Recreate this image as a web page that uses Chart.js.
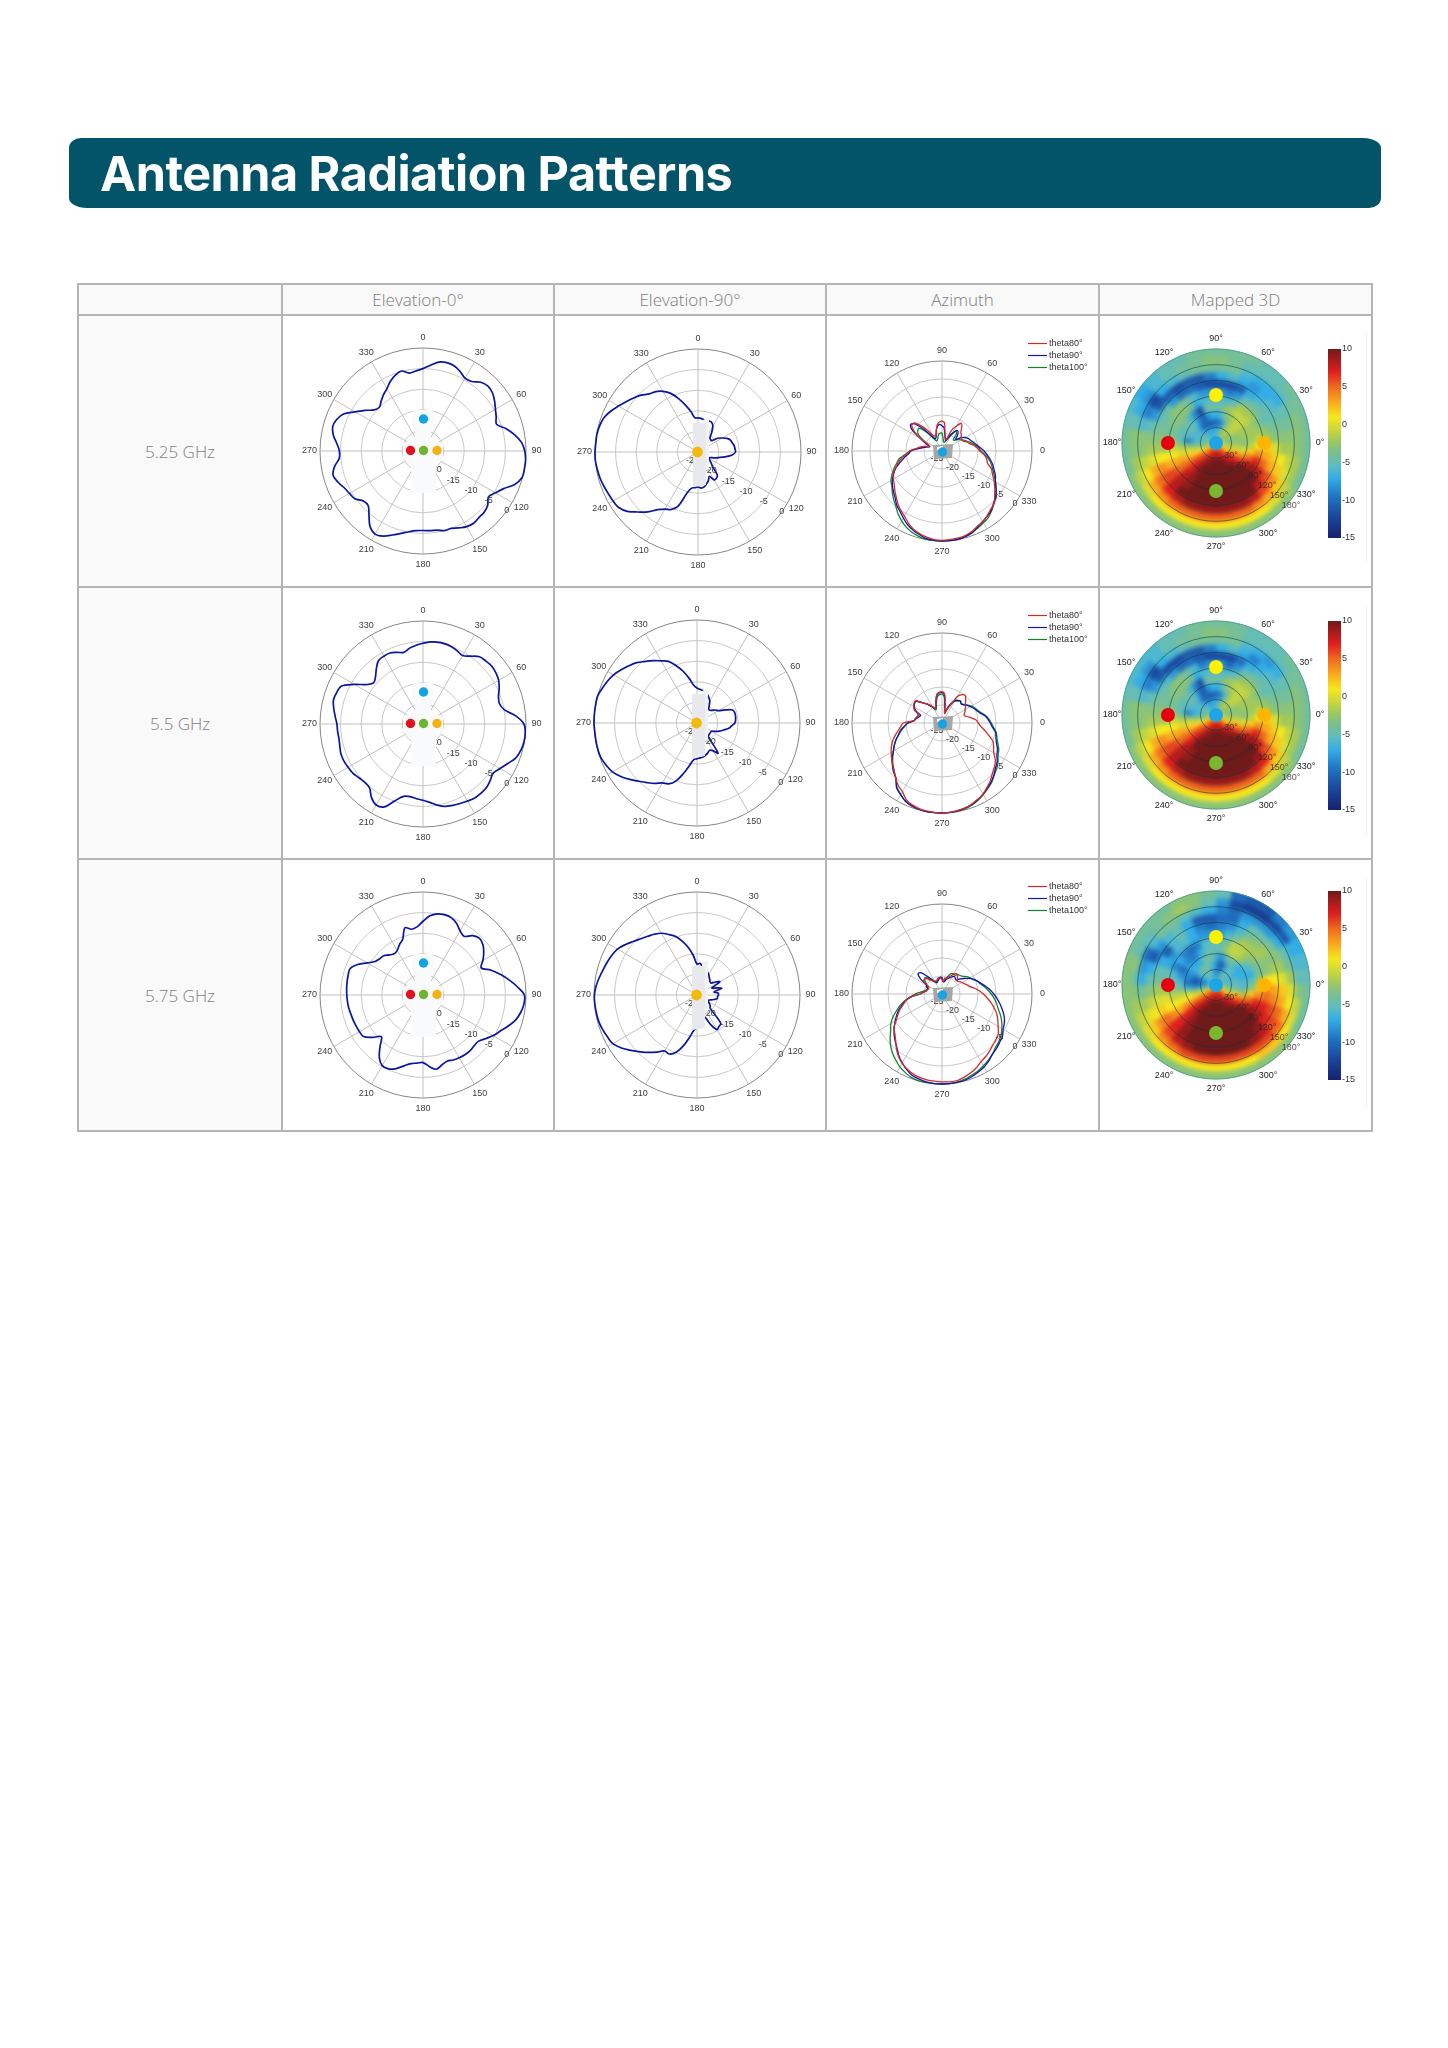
<!DOCTYPE html>
<html>
<head>
<meta charset="utf-8">
<title>Antenna Radiation Patterns</title>
<script src="https://cdn.jsdelivr.net/npm/chart.js@4"></script>
<style>
  body { margin: 0; background: #fff; width: 1448px; height: 2048px; position: relative; overflow: hidden; }
  .banner { position: absolute; left: 69px; top: 138px; width: 1312px; height: 70px; background: #035468; border-radius: 12px 18px 12px 18px / 10px; }
  .banner h1 { margin: 0; position: absolute; left: 31px; top: 1px; font: 700 48.5px/70px Inter, sans-serif; letter-spacing: -0.5px; color: #fff; }
  table { position: absolute; left: 77px; top: 283px; border-collapse: collapse; table-layout: fixed; width: 1294px; color: #7d7d7d; font-family: "Open Sans", sans-serif; font-weight: 300; }
  td, th { border: 2px solid #b5b5b5; padding: 0; text-align: center; font-weight: 300; }
  thead th { height: 29px; background: #f9f9f9; font-size: 17px; line-height: 20px; }
  tbody td { height: 270px; background: #fff; }
  tbody td:first-child { background: #f9f9f9; font-size: 17px; }
  canvas { position: absolute; }
  .edge { position: absolute; width: 1px; height: 231px; background: #f0f0f0; }
</style>
</head>
<body>
<div class="banner"><h1>Antenna Radiation Patterns</h1></div>
<table>
  <colgroup><col style="width:204px"><col style="width:272px"><col style="width:272px"><col style="width:273px"><col style="width:273px"></colgroup>
  <thead><tr><th></th><th>Elevation-0°</th><th>Elevation-90°</th><th>Azimuth</th><th>Mapped 3D</th></tr></thead>
  <tbody>
    <tr><td>5.25 GHz</td><td></td><td></td><td></td><td></td></tr>
    <tr><td>5.5 GHz</td><td></td><td></td><td></td><td></td></tr>
    <tr><td>5.75 GHz</td><td></td><td></td><td></td><td></td></tr>
  </tbody>
</table>
<script>
// Gain in dB, one value every 5 degrees. Elevation lists start at 0 and go clockwise
const elev0_525 = [-5.0,-4.1,-3.1,-2.8,-3.0,-3.7,-4.6,-4.4,-3.2,-2.7,-3.0,-3.8,-4.7,-5.4,-6.0,-4.1,-2.4,-1.0,-0.3,0,0,-0.1,-1.3,-3.4,-4.7,-5.6,-4.5,-4.0,-3.9,-3.6,-3.8,-4.4,-5.0,-5.0,-5.5,-5.6,-5.7,-5.6,-5.1,-4.3,-3.3,-2.2,-1.7,-2.6,-4.6,-6.2,-6.1,-4.8,-4.4,-3.9,-3.0,-2.4,-3.2,-4.6,-4.7,-4.0,-2.9,-2.3,-2.7,-3.7,-6.0,-7.8,-9.5,-10.0,-9.2,-8.3,-7.5,-6.3,-5.4,-4.9,-5.8,-5.5]
const elev0_55 = [-5.4,-5.0,-4.8,-4.8,-5.0,-5.4,-5.8,-4.9,-3.7,-3.4,-3.2,-3.4,-3.8,-4.6,-5.5,-5.8,-5.0,-2.4,-0.5,-0.1,-0.1,-0.4,-1.0,-2.3,-3.4,-4.2,-3.7,-3.2,-3.1,-3.1,-3.4,-3.7,-4.0,-4.3,-5.0,-5.9,-6.5,-6.8,-7.1,-6.8,-5.2,-2.8,-2.3,-3.2,-4.8,-5.0,-4.7,-4.2,-4.0,-3.8,-3.8,-4.1,-4.3,-4.2,-4.1,-3.6,-3.0,-2.5,-2.7,-3.2,-5.8,-8.3,-9.4,-8.7,-7.4,-6.2,-6.0,-6.0,-6.5,-7.0,-6.3,-5.8]
const elev0_575 = [-7.1,-5.7,-5.0,-4.8,-5.0,-5.8,-7.0,-7.6,-6.2,-5.6,-6.0,-7.0,-8.2,-9.4,-7.4,-5.6,-3.8,-2.0,-0.4,-0.4,-0.9,-1.7,-3.0,-4.3,-5.3,-6.5,-7.5,-7.5,-7.3,-7.3,-7.4,-7.6,-7.9,-7.4,-6.7,-7.6,-8.6,-8.4,-8.1,-7.2,-6.0,-5.2,-5.2,-6.5,-8.8,-10.7,-9.0,-7.4,-7.2,-7.1,-7.0,-6.9,-6.7,-6.6,-6.5,-6.4,-6.3,-6.2,-6.2,-7.5,-9.4,-10.8,-11.3,-11.5,-12.3,-12.8,-12.5,-11.5,-10.6,-8.1,-8.8,-8.4]

const elev90_525 = [-16.7,-16.8,-17,-17,-17,-17.1,-17.8,-19.2,-20.5,-20.7,-20.7,-19.2,-18.2,-17.2,-16.6,-16.4,-16.1,-16,-15.9,-16.7,-18.3,-19.8,-20.9,-21.8,-22,-21.5,-20.8,-20,-17.7,-17.2,-17.2,-18.5,-17.6,-17,-16.4,-16.2,-16.5,-16.3,-16.1,-14.7,-11.1,-9.6,-9,-7.9,-6,-4.4,-2.6,-1.5,-1.2,-1,-0.7,-0.4,-0.2,0,0,-0.1,-0.1,-0.3,-0.7,-1.6,-2.7,-3.7,-4.6,-5.5,-6.6,-7.1,-8,-9.3,-11.2,-13.2,-15,-16.7]
const elev90_55 = [-16.5,-16.8,-17,-17.2,-17.6,-18.2,-18.8,-19.8,-20.6,-20.6,-20.2,-19.5,-19,-17.5,-15.8,-15.5,-15.5,-15.6,-15.8,-16.6,-17.3,-18.4,-19.2,-20.2,-21,-21,-21,-20.9,-20.8,-16.1,-17.2,-17.7,-17.3,-16.9,-16.6,-16.5,-16.3,-16.1,-14.5,-12.3,-10,-8.7,-8.2,-7.1,-6.1,-5,-3.7,-2.4,-1.3,-0.7,-0.2,-0.1,-0.1,-0.1,0,0,0,0,-0.5,-1,-1.6,-2.5,-3.4,-4.3,-5.5,-6.5,-7.6,-8.5,-10.2,-12,-14,-15.8]
const elev90_575 = [-17.5,-17.3,-17.8,-18.2,-18.6,-18.9,-19.3,-19.8,-20.2,-20.5,-20.5,-19.5,-18.6,-21,-20,-18.8,-20.8,-19.8,-19.8,-20,-20,-20.8,-21.5,-22,-21.8,-21.3,-20.8,-20.5,-16,-15.7,-15.3,-17,-19.2,-19.5,-19,-17.8,-17,-16.4,-14.6,-12.2,-10.2,-9.2,-9.3,-8.1,-6.8,-5.5,-4.1,-2.6,-1.4,-1,-0.6,-0.3,-0.2,-0.1,-0.1,-0.4,-0.9,-1.4,-1.8,-2.2,-2.7,-3.7,-4.8,-5.7,-6.4,-7,-7.7,-8.8,-9.9,-11.6,-13.4,-15.5]

// Azimuth lists start at 90 and go clockwise, 85, 80 ... like the plot is read
const az525_theta80 = [-16.7,-17.1,-20.2,-21.3,-21.6,-18.7,-17,-15.6,-16.5,-17.6,-18,-18.5,-18.7,-18.5,-17.6,-17.1,-16,-15.2,-14.5,-13.3,-12.4,-11.9,-10.4,-9.5,-8.3,-7.1,-5.9,-4.5,-3.9,-3.1,-2.3,-1.9,-1.1,-0.6,-0.4,-0.3,-0.2,-0.3,-0.7,-1.2,-1.9,-2.9,-4.1,-5,-5.9,-7,-7.9,-8.8,-9.4,-10,-11.3,-12.4,-13.5,-15.1,-16,-17.7,-18.7,-20,-21.3,-20.8,-18.3,-15.7,-14,-14,-15.8,-18,-20,-20.4,-20.2,-19,-17.5,-16.9]
const az525_theta90 = [-18,-18.5,-20.5,-21.5,-22,-21.2,-19.7,-18,-18,-19,-20,-18.5,-17.5,-16.9,-16.5,-15.9,-15.2,-14.3,-13.3,-12.4,-11.4,-10.4,-9.6,-8.6,-7.9,-6.7,-5.5,-4.7,-3.6,-3,-2.4,-1.7,-0.8,-0.4,-0.1,0,0,-0.1,-0.3,-0.9,-1.6,-2.4,-3.5,-4.6,-5.4,-6.6,-7.4,-8.2,-9.1,-10.2,-11.4,-13,-14.3,-15.6,-16.4,-18,-19.6,-20.5,-21.3,-20,-18.2,-15,-13.6,-14.3,-16.9,-19.8,-21,-21,-20.3,-18.9,-18,-17.6]
const az525_theta100 = [-20.1,-21.5,-22.4,-22.5,-21.8,-20.3,-19.2,-18.3,-18.8,-20.6,-20.4,-19.5,-18.8,-18,-17.4,-16.5,-15.7,-14.7,-14.2,-13,-11.8,-10.8,-10,-9,-7.8,-6.6,-5.3,-4.5,-3.5,-2.5,-2,-1.4,-0.8,-0.3,0,0,0,0,-0.1,-0.4,-0.9,-1.6,-2.6,-3.7,-5,-6,-7,-8,-8.6,-9.7,-10.8,-12,-13,-14.8,-16.2,-18,-19.4,-20.6,-21.4,-20.4,-19,-17,-16.2,-16,-18,-20.3,-21.6,-21.8,-21.5,-20.8,-20.2,-20]

const az55_theta80 = [-16.3,-16.8,-20,-22.3,-21,-19.5,-16.6,-15.4,-15,-15.7,-16.5,-17,-17.6,-18,-18.5,-18,-16.8,-15.5,-14.9,-14.2,-12.9,-11.5,-9.9,-9.2,-8.4,-6.9,-6,-5.2,-4.1,-3.2,-2.2,-1.6,-1,-0.5,-0.3,-0.1,0,-0.1,-0.2,-0.4,-0.8,-1.5,-3,-3.8,-5,-6.2,-7.1,-7.9,-8.7,-9.5,-10.4,-11.5,-12.6,-13.5,-14.2,-17.2,-17.5,-17.9,-18.3,-16.5,-16,-15.5,-15.5,-16.9,-18,-18.8,-19.7,-20.6,-20.1,-18.5,-16.9,-16.4]
const az55_theta90 = [-16.5,-17.2,-20.5,-22,-20.5,-19,-17.8,-17.3,-17,-17.5,-17.2,-16.5,-15.9,-15.3,-14.8,-14.1,-13,-12.2,-11.6,-10.9,-9.9,-9.5,-8.9,-8,-7.4,-6.3,-5.6,-4.6,-3.7,-3,-2.2,-1.5,-0.9,-0.5,-0.2,-0.1,0,0,0,-0.2,-0.5,-1,-2,-3,-5.1,-5.9,-7,-8.1,-9.4,-10.4,-11.4,-12.5,-13.3,-14.5,-15.5,-17.2,-17.8,-18.4,-18.7,-17,-16,-15.7,-15.5,-16.9,-18,-19,-20,-20.6,-20.1,-18.5,-17,-16.6]
const az55_theta100 = [-17,-17.8,-21,-22.2,-21,-19.5,-18,-17.6,-17.1,-17.4,-17,-16.3,-15.6,-15,-14.5,-13.8,-12.8,-12,-11.3,-10.6,-9.7,-9.2,-8.5,-7.6,-7,-6,-5.2,-4.5,-3.5,-2.8,-2,-1.3,-0.7,-0.3,-0.1,0,0,0,0,-0.2,-0.5,-1,-2.1,-3.2,-5,-6.2,-7.2,-8.3,-9.4,-10.4,-11.4,-12.6,-13.6,-14.6,-15.6,-17.3,-17.6,-17.9,-17.9,-16.8,-16.2,-15.6,-15.6,-17,-18,-19,-20,-21,-20.5,-19,-17.6,-17.1]

const az575_theta80 = [-21,-21.5,-20.5,-20.5,-20,-19.5,-18.6,-18.1,-18.3,-19,-19.5,-19,-18.6,-18.2,-17.6,-17,-15.8,-14.6,-13.5,-12.4,-11.2,-10,-8.8,-7.9,-7,-5.9,-5.4,-5,-4.4,-3.8,-3.3,-2.4,-1.7,-1.1,-0.6,-0.5,-0.6,-0.7,-0.8,-1,-1.4,-2,-2.8,-3.9,-5.3,-6.8,-7.9,-8.7,-10.3,-11.5,-12.6,-13.9,-14.9,-16.6,-19,-19.8,-20.5,-20.7,-21,-21,-20.5,-18.8,-18.6,-19,-20,-20.5,-20.8,-21,-21,-20.5,-20.5,-20.5]
const az575_theta90 = [-20.5,-21.5,-21.5,-21,-20.5,-20,-19.5,-19,-19.3,-19.5,-18.5,-17.5,-16.3,-15.3,-14.5,-13.7,-12.7,-11.6,-10.6,-9.6,-8.6,-7.6,-6.6,-5.9,-5.4,-4.5,-4.1,-3.6,-3.2,-2.3,-1.6,-1.1,-0.6,-0.2,-0.1,0,0,0,-0.2,-0.5,-0.9,-1.8,-2.9,-4.1,-5.5,-6.6,-7.6,-8.8,-10,-11.1,-12.3,-13.6,-14.8,-16.5,-19,-19.7,-20.5,-20.6,-20.8,-20.2,-20,-17.8,-16.3,-16.6,-18.5,-20,-21,-21.4,-21.4,-21,-20.7,-20.3]
const az575_theta100 = [-20.6,-21.5,-21.3,-20.5,-19.5,-18.7,-18.6,-18.6,-18,-17.8,-17.4,-16.6,-16,-15.5,-14.6,-14,-13.1,-12.2,-11.3,-10.4,-9.6,-8.8,-7.7,-6.7,-5.8,-5,-4.4,-4,-3.2,-2.6,-2,-1.4,-1,-0.5,-0.2,0,0,0,0,0,-0.3,-0.9,-1.6,-2.6,-3.6,-4.8,-6.2,-7.6,-8.6,-10,-11.6,-13,-14.6,-16.2,-17.5,-19,-20,-20.6,-20.8,-20.6,-20.2,-19.5,-18.7,-18.5,-19.5,-20.6,-21.2,-21.6,-21,-20.5,-20.4,-20.4]

// Mapped 3D: one row per theta ring (15 deg each), one value per 10 deg sector, clockwise from 90
const ringEdges = [15,30,45,60,75,90,105,120,135,150,165,180]
const heat525 = [
  [-5,-4,-3,-3,-3,-2,-2,-2,-2,-1,0,1,2,3,4,4,5,5,5,5,5,5,4,3,1,-1,-2,-3,-3,-4,-4,-5,-5,-6,-6,-6],
  [-7,-5,-3,-2,-2,-2,-3,-3,-3,-3,-2,0,2,4,6,7,8,8,8,8,7,6,5,3,1,-2,-4,-5,-5,-5,-5,-6,-7,-7,-7,-7],
  [-10,-9,-6,-2,-1,-1,-2,-3,-3,-2,-1,2,5,7,8,9,10,10,10,10,9,8,6,5,1,-1,-4,-6,-6,-6,-6,-8,-11,-10,-11,-10],
  [-7,-5,-3,-2,-1,-1,-2,-2,-3,-3,0,3,6,8,10,10,10,10,10,10,10,9,7,5,2,0,-3,-9,-6,-5,-5,-6,-9,-11,-8,-7],
  [-5,-3,-2,-1,-1,-1,-2,-2,-2,-1,2,5,8,10,10,10,10,10,10,10,10,9,7,5,3,0,-2,-5,-5,-5,-4,-6,-9,-12,-5,-4],
  [-5,-6,-5,-2,-2,-2,-3,-2,-1,1,4,7,9,10,10,10,10,10,10,10,10,9,8,5,3,1,-1,-3,-4,-3,-3,-3,-4,-7,-6,-5],
  [-8,-9,-8,-5,-4,-4,-5,-3,-2,2,3,5,8,10,10,10,10,10,10,10,10,9,8,6,3,1,-2,-3,-4,-4,-3,-3,-4,-6,-8,-8],
  [-12,-12,-11,-7,-6,-5,-5,-4,-3,0,2,3,6,8,10,10,10,10,10,10,10,10,8,6,4,1,-2,-3,-4,-5,-5,-8,-10,-10,-11,-12],
  [-7,-6,-7,-8,-7,-6,-5,-4,-3,-2,1,2,4,6,8,9,9,9,9,9,9,8,7,5,3,0,-2,-3,-5,-8,-11,-11,-12,-11,-11,-9],
  [-4,-4,-6,-7,-7,-7,-5,-4,-3,-2,-1,0,2,3,4,5,5,5,5,5,5,5,4,3,1,-1,-3,-3,-6,-9,-12,-7,-6,-5,-4,-4],
  [-3,-4,-5,-5,-5,-5,-4,-3,-3,-3,-2,-2,-1,0,1,1,1,1,1,1,1,1,1,0,-1,-2,-3,-3,-5,-7,-8,-6,-5,-4,-4,-3],
  [-4,-4,-4,-5,-5,-4,-4,-4,-4,-4,-4,-4,-3,-3,-3,-3,-3,-3,-3,-3,-3,-3,-3,-3,-3,-4,-4,-4,-5,-6,-7,-6,-5,-5,-4,-4],
]
const heat55 = [
  [-5,-4,-3,-3,-3,-2,-2,-2,-2,-1,0,1,2,3,4,5,5,5,5,5,5,5,4,3,1,-1,-2,-3,-3,-4,-4,-5,-5,-6,-6,-6],
  [-7,-5,-3,-2,-2,-2,-3,-3,-3,-3,-2,0,2,4,6,7,8,8,8,8,7,6,5,3,1,-2,-4,-5,-5,-5,-5,-6,-7,-8,-7,-7],
  [-10,-9,-6,-3,-1,-1,-2,-3,-3,-2,-1,2,5,7,9,9,10,10,10,10,9,8,6,5,1,-1,-4,-7,-6,-6,-6,-8,-11,-10,-11,-10],
  [-7,-5,-3,-2,-1,-1,-2,-2,-3,-3,0,3,6,9,10,10,10,10,10,10,10,9,7,5,2,0,-3,-9,-6,-5,-5,-6,-10,-11,-8,-7],
  [-5,-3,-2,-1,-1,-1,-2,-2,-2,-1,2,5,8,10,10,10,10,10,10,10,10,10,7,5,3,0,-2,-5,-5,-5,-4,-6,-9,-12,-5,-4],
  [-5,-6,-5,-3,-2,-2,-3,-2,-1,1,4,7,9,10,10,10,10,10,10,10,10,9,8,5,3,1,-1,-3,-4,-3,-3,-3,-4,-7,-6,-5],
  [-8,-10,-8,-5,-4,-4,-5,-3,-2,2,3,5,8,10,10,10,10,10,10,10,10,9,8,6,3,1,-2,-3,-4,-4,-3,-3,-4,-6,-9,-8],
  [-12,-12,-10,-7,-6,-5,-5,-4,-3,0,2,3,6,9,10,10,10,10,10,10,10,10,8,6,4,1,-2,-3,-4,-5,-6,-8,-10,-10,-11,-12],
  [-7,-6,-7,-9,-7,-6,-5,-4,-3,-2,1,2,4,7,8,9,9,9,9,9,9,8,7,5,3,0,-2,-3,-5,-8,-11,-12,-12,-11,-11,-9],
  [-4,-4,-6,-7,-8,-7,-5,-4,-3,-2,-1,0,2,3,5,5,5,5,5,5,5,5,4,3,1,-1,-3,-3,-6,-9,-12,-7,-6,-5,-4,-4],
  [-3,-4,-5,-5,-5,-5,-4,-3,-3,-3,-2,-2,-1,0,1,1,1,1,1,1,1,1,1,0,-1,-2,-3,-3,-5,-7,-8,-6,-5,-4,-4,-3],
  [-4,-4,-5,-5,-5,-4,-4,-4,-4,-4,-4,-4,-3,-3,-3,-3,-3,-3,-3,-3,-3,-3,-3,-3,-3,-4,-4,-4,-5,-6,-6,-6,-5,-5,-4,-4],
]
const heat575 = [
  [-6,-6,-5,-5,-4,-4,-4,-4,-4,-3,-1,1,2,3,4,4,5,5,5,5,5,5,4,3,1,-2,-4,-6,-6,-6,-6,-6,-6,-6,-6,-6],
  [-9,-9,-6,-5,-5,-5,-6,-6,-6,-5,-4,-2,1,3,6,7,8,8,8,8,7,6,5,3,0,-3,-7,-9,-9,-8,-6,-5,-5,-5,-6,-8],
  [-10,-11,-9,-6,-5,-6,-7,-6,-5,-5,-4,0,4,7,8,9,10,10,10,10,9,8,6,4,0,-3,-8,-11,-11,-9,-6,-5,-4,-4,-5,-7],
  [-8,-8,-5,-4,-6,-7,-7,-7,-6,-6,-3,3,6,8,10,10,10,10,10,10,10,9,7,4,1,-1,-7,-10,-9,-8,-7,-7,-7,-5,-4,-5],
  [-5,-3,-1,-1,-2,-5,-6,-7,-5,-3,2,5,8,10,10,10,10,10,10,10,10,9,7,4,1,-1,-4,-6,-8,-10,-8,-9,-9,-7,-5,-5],
  [-5,-4,-1,-1,-2,-3,-4,-4,-2,2,4,7,9,10,10,10,10,10,10,10,10,9,7,3,1,-1,-3,-5,-6,-9,-7,-9,-10,-9,-6,-5],
  [-8,-6,-4,-2,-2,-2,-3,-3,1,4,5,7,8,10,10,10,10,10,10,10,10,9,7,4,1,0,-2,-4,-5,-7,-8,-6,-6,-7,-8,-8],
  [-9,-8,-6,-4,-3,-2,-3,-2,1,3,4,6,7,9,10,10,10,10,10,10,10,9,7,5,2,0,-2,-4,-5,-7,-11,-6,-5,-7,-9,-10],
  [-10,-10,-7,-5,-5,-4,-3,-2,0,2,3,5,6,8,9,10,10,10,10,10,9,8,6,4,1,-1,-3,-5,-7,-11,-8,-6,-5,-7,-11,-11],
  [-9,-10,-8,-8,-8,-7,-5,-4,-2,0,1,3,5,6,6,6,6,6,6,6,6,5,4,2,0,-2,-4,-7,-8,-10,-6,-4,-4,-5,-6,-7],
  [-8,-12,-13,-13,-12,-11,-7,-6,-5,-3,-1,0,1,2,2,1,1,1,1,1,1,1,1,0,-1,-2,-3,-4,-3,-5,-5,-4,-3,-2,-3,-5],
  [-5,-10,-11,-11,-9,-8,-7,-6,-5,-4,-4,-4,-3,-3,-3,-3,-3,-3,-3,-3,-3,-3,-3,-3,-3,-3,-3,-3,-3,-4,-4,-4,-4,-3,-3,-4],
]

const gainTicks = [-25,-20,-15,-10,-5,0]
const thetaTicks = [30,60,90,120,150,180]
const colourbarTicks = [-15,-10,-5,0,5,10]
const heatStops = [[-15,'#16216e'],[-12,'#1b4a9e'],[-9.5,'#2175c4'],[-7,'#33ade6'],[-5.5,'#5dbcc4'],[-3.5,'#7dc08a'],[-2,'#a3c95a'],[-0.5,'#cfd93a'],[1,'#f7e71c'],[3,'#f9a81e'],[5,'#ee6a1e'],[7,'#de1f1f'],[8.5,'#a81c1c'],[10,'#6e1a1a']]
const thetaNames = ['theta80°','theta90°','theta100°']
const thetaColours = ['#d42a2a','#1414b0','#0d8428']

// Page layout, in px
const colX = [78,282,554,826,1099,1371]
const rowY = [315,588,860,1133]
const elev0Centers = [[423,451],[423,724],[423,995]]
const elev90Centers = [[698,452],[697,723],[697,995]]
const azCenters = [[942,451],[942,723],[942,994]]
const mapCenters = [[1216,443],[1216,715],[1216,985]]
const barTops = [349,621,891]

Chart.defaults.animation = false
Chart.defaults.font.family = '"Liberation Sans", sans-serif'

function makeCanvas(col, row) {
  const c = document.createElement('canvas')
  const w = colX[col + 1] - colX[col], h = rowY[row + 1] - rowY[row]
  c.width = w
  c.height = h
  c.style.left = colX[col] + 'px'
  c.style.top = rowY[row] + 'px'
  document.body.appendChild(c)
  return { c, w, h, x: colX[col], y: rowY[row] }
}

function areaPadding(box, center, r) {
  const left = center[0] - r - box.x, top = center[1] - r - box.y
  return { left, top, right: box.w - left - 2 * r, bottom: box.h - top - 2 * r }
}

function dot(ctx, x, y, r, colour) {
  ctx.fillStyle = colour
  ctx.beginPath()
  ctx.arc(x, y, r, 0, Math.PI * 2)
  ctx.fill()
}

function shape(ctx, pts, colour) {
  ctx.fillStyle = colour
  ctx.beginPath()
  pts.forEach((p, i) => i ? ctx.lineTo(p[0], p[1]) : ctx.moveTo(p[0], p[1]))
  ctx.closePath()
  ctx.fill()
}

// The small product pictures that sit in the middle of the plots
function drawFrontView(ctx, x, y) {
  shape(ctx, [[-10,-41],[10,-41],[11,-27],[8,-20],[8,-12],[20,-8],[20,8],[13,15],[13,42],[-12,42],[-12,15],[-20,8],[-20,-8],[-8,-12],[-8,-20],[-11,-27]].map(p => [x + p[0], y + p[1]]), '#f8fafb')
  dot(ctx, x + 0.5, y - 32, 4.7, '#12a3e0')
  dot(ctx, x - 12.5, y - 0.5, 4.7, '#e0101c')
  dot(ctx, x + 0.5, y - 0.5, 4.7, '#6db52e')
  dot(ctx, x + 14, y - 0.5, 4.7, '#f4b312')
}

function drawSideView(ctx, x, y) {
  shape(ctx, [[5,-32],[11,-35],[11,16],[5,20]].map(p => [x + p[0], y + p[1]]), '#eff1f3')
  shape(ctx, [[-5,-29],[8,-29],[8,33],[-5,35]].map(p => [x + p[0], y + p[1]]), '#e7e9ec')
  dot(ctx, x - 0.5, y, 5.4, '#f5b90c')
}

function drawTopView(ctx, x, y) {
  shape(ctx, [[-9,-6],[11,-7],[10,7],[-8,8]].map(p => [x + p[0], y + p[1]]), '#a6a6a6')
  shape(ctx, [[-5,-4],[1,-5],[1,-2],[-5,-1]].map(p => [x + p[0], y + p[1]]), '#fff')
  dot(ctx, x + 0.5, y + 1, 4.7, '#18a3e2')
}

function curveChart(box, center, r, labels, datasets, tickIndex, tickOffset, overlay, legend) {
  const labelIdx = labels.map((a, i) => a % 30 === 0 ? i : -1).filter(i => i >= 0)
  return new Chart(box.c, {
    type: 'radar',
    data: { labels, datasets },
    options: {
      responsive: false,
      events: [],
      layout: { padding: areaPadding(box, center, r) },
      plugins: { legend: { display: false }, tooltip: { enabled: false } },
      scales: {
        r: {
          min: -25, max: 0,
          ticks: { display: false, stepSize: 5 },
          pointLabels: { display: false },
          grid: { circular: true, color: ctx => ctx.tick.value === 0 ? '#858585' : '#c8c8c8', lineWidth: 1 },
          angleLines: { color: '#c0c0c0', lineWidth: ctx => labels[ctx.index] % 30 === 0 ? 1 : 0 },
        },
      },
    },
    plugins: [{
      id: 'polarText',
      afterDatasetsDraw(chart) {
        const s = chart.scales.r, ctx = chart.ctx
        ctx.save()
        ctx.font = '9px "Liberation Sans"'
        ctx.fillStyle = '#3c3c3c'
        ctx.textAlign = 'center'
        ctx.textBaseline = 'middle'
        labelIdx.forEach(i => {
          const p = s.getPointPosition(i, s.drawingArea + 10.5)
          ctx.fillText(String(labels[i]), p.x, p.y)
        })
        gainTicks.forEach(v => {
          const p = s.getPointPosition(tickIndex, s.getDistanceFromCenterForValue(v))
          ctx.fillText(String(v), p.x + tickOffset[0], p.y + tickOffset[1])
        })
        overlay(ctx, s.xCenter, s.yCenter)
        if (legend) {
          chart.data.datasets.forEach((d, i) => {
            const y = s.yCenter - 107.5 + i * 12
            ctx.strokeStyle = d.borderColor
            ctx.lineWidth = 1.2
            ctx.beginPath()
            ctx.moveTo(s.xCenter + 86, y)
            ctx.lineTo(s.xCenter + 105, y)
            ctx.stroke()
            ctx.fillStyle = '#333'
            ctx.textAlign = 'left'
            ctx.fillText(d.label, s.xCenter + 107, y)
          })
        }
        ctx.restore()
      },
    }],
  })
}

function blueLine(values) {
  return { data: values, borderColor: '#0b159f', borderWidth: 1.7, pointRadius: 0, fill: false, tension: 0.35, clip: false }
}

function thetaLines(lists) {
  return lists.map((values, i) => ({ label: thetaNames[i], data: values, borderColor: thetaColours[i], borderWidth: 1.3, pointRadius: 0, fill: false, tension: 0.3, clip: false }))
}

function hexToRgb(h) {
  return [1, 3, 5].map(i => parseInt(h.slice(i, i + 2), 16))
}

function heatColour(v) {
  for (let i = 1; i < heatStops.length; i++) {
    if (v <= heatStops[i][0]) {
      const [a, ca] = heatStops[i - 1], [b, cb] = heatStops[i]
      const t = (v - a) / (b - a)
      const A = hexToRgb(ca), B = hexToRgb(cb)
      return `rgb(${A.map((x, k) => Math.round(x + (B[k] - x) * t)).join(',')})`
    }
  }
  return heatStops[heatStops.length - 1][1]
}

function heatChart(box, center, r, heat) {
  const labels = heat[0].map((_, i) => (450 - i * 10) % 360)
  const idxOf = a => labels.indexOf(a)
  new Chart(box.c, {
    type: 'polarArea',
    data: {
      labels,
      datasets: heat.map((row, j) => {
        const colours = row.map(heatColour)
        return { data: row.map(() => ringEdges[j]), backgroundColor: colours, borderColor: colours, borderWidth: 1 }
      }),
    },
    options: {
      responsive: false,
      events: [],
      layout: { padding: areaPadding(box, center, r) },
      plugins: { legend: { display: false }, tooltip: { enabled: false } },
      scales: {
        r: {
          min: 0, max: 180,
          ticks: { display: false, stepSize: 30 },
          pointLabels: { display: false },
          grid: { z: 1, circular: true, color: ctx => ctx.tick.value === 180 ? '#4c9a8e' : 'rgba(15,50,50,0.7)', lineWidth: 0.8 },
          angleLines: { color: 'rgba(15,50,50,0.7)', lineWidth: ctx => labels[ctx.index] % 30 === 0 ? 0.8 : 0 },
        },
      },
    },
    plugins: [{
      id: 'smoothHeat',
      afterDatasetsDraw(chart) {
        const s = chart.scales.r, ctx = chart.ctx
        ctx.save()
        ctx.beginPath()
        ctx.arc(s.xCenter, s.yCenter, s.drawingArea, 0, Math.PI * 2)
        ctx.clip()
        ctx.filter = 'blur(2px)'
        ctx.drawImage(chart.canvas, 0, 0, chart.width, chart.height)
        ctx.restore()
      },
      afterDraw(chart) {
        const s = chart.scales.r, ctx = chart.ctx
        ctx.save()
        ctx.textAlign = 'center'
        ctx.textBaseline = 'middle'
        ctx.font = '9px "Liberation Sans"'
        ctx.fillStyle = '#222'
        labels.forEach((a, i) => {
          if (a % 30) return
          const p = s.getPointPosition(i, s.drawingArea + 10)
          ctx.fillText(a + '°', p.x, p.y)
        })
        ctx.fillStyle = 'rgba(55,30,30,0.8)'
        thetaTicks.forEach(t => {
          const p = s.getPointPosition(idxOf(320), s.getDistanceFromCenterForValue(t) + 4)
          ctx.fillText(t + '°', p.x, p.y)
        })
        const far = s.getDistanceFromCenterForValue(92)
        const marks = [[90, far, '#fff200'], [180, far, '#e60012'], [0, far, '#ffb400'], [270, far, '#7ab62e'], [90, 0, '#1ea5e6']]
        marks.forEach(m => {
          const p = s.getPointPosition(idxOf(m[0]), m[1])
          dot(ctx, p.x, p.y, 7, m[2])
        })
        ctx.restore()
      },
    }],
  })
}

function colourbar(box, top) {
  const left = 1328 - box.x
  new Chart(box.c, {
    type: 'bar',
    data: { labels: [''], datasets: [{
      data: [[colourbarTicks[0], colourbarTicks[colourbarTicks.length - 1]]],
      barPercentage: 1,
      categoryPercentage: 1,
      backgroundColor(ctx) {
        const area = ctx.chart.chartArea, y = ctx.chart.scales.y
        if (!area || !y) return '#888'
        const g = ctx.chart.ctx.createLinearGradient(0, y.getPixelForValue(-15), 0, y.getPixelForValue(10))
        heatStops.forEach(st => g.addColorStop((st[0] + 15) / 25, st[1]))
        return g
      },
    }] },
    options: {
      responsive: false,
      events: [],
      layout: { padding: { left, top: top - box.y, right: box.w - left - 33, bottom: box.h - (top - box.y) - 189 } },
      plugins: { legend: { display: false }, tooltip: { enabled: false } },
      scales: {
        x: { display: false },
        y: {
          position: 'right', min: -15, max: 10,
          afterFit: s => { s.width = 20 },
          grid: { display: false, drawTicks: false },
          border: { display: false },
          ticks: { stepSize: 5, padding: 1, color: '#333', font: { size: 9 } },
        },
      },
    },
  })
}

const elevLabels = elev0_525.map((_, i) => i * 5)
const azLabels = az525_theta80.map((_, i) => (450 - i * 5) % 360)

const elev0Rows = [elev0_525, elev0_55, elev0_575]
const elev90Rows = [elev90_525, elev90_55, elev90_575]
const azRows = [
  [az525_theta80, az525_theta90, az525_theta100],
  [az55_theta80, az55_theta90, az55_theta100],
  [az575_theta80, az575_theta90, az575_theta100],
]
const heatRows = [heat525, heat55, heat575]

for (let row = 0; row < 3; row++) {
  curveChart(makeCanvas(1, row), elev0Centers[row], 103, elevLabels, [blueLine(elev0Rows[row])], elevLabels.indexOf(120), [-5.5, 8.5], drawFrontView)
  curveChart(makeCanvas(2, row), elev90Centers[row], 103, elevLabels, [blueLine(elev90Rows[row])], elevLabels.indexOf(120), [-5.5, 8.5], drawSideView)
  curveChart(makeCanvas(3, row), azCenters[row], 90, azLabels, thetaLines(azRows[row]), azLabels.indexOf(330), [-5, 7.3], drawTopView, true)
  heatChart(makeCanvas(4, row), mapCenters[row], 94, heatRows[row])
  colourbar(makeCanvas(4, row), barTops[row])
  const edge = document.createElement('div')
  edge.className = 'edge'
  edge.style.left = '1366px'
  edge.style.top = rowY[row] + 17 + 'px'
  document.body.appendChild(edge)
}
</script>
</body>
</html>
